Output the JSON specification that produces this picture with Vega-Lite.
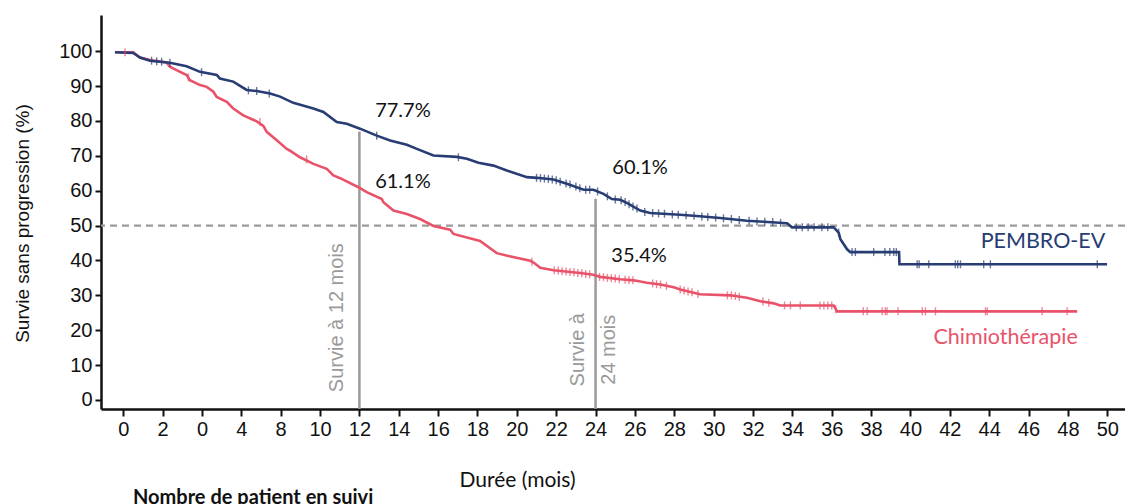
{
  "$schema": "https://vega.github.io/schema/vega-lite/v6.json",
  "width": 1024,
  "height": 394,
  "autosize": {"type": "none"},
  "padding": {"left": 101, "top": 15, "right": 0, "bottom": 95},
  "background": "white",
  "config": {"view": {"stroke": null}, "font": "Liberation Sans", "axis": {"labelOverlap": false, "labelBound": false, "labelFlush": false}},
  "title": {"text": "Nombre de patient en suivi", "orient": "bottom", "anchor": "start", "frame": "group", "font": "Lato", "fontWeight": "bold", "fontSize": 20, "color": "#111111", "dx": 32, "offset": 6, "dy": -8},
  "datasets": {
    "curves": [
      {"group": "Chimiothérapie", "t": -0.42, "s": 99.7},
      {"group": "Chimiothérapie", "t": 0.51, "s": 99.7},
      {"group": "Chimiothérapie", "t": 0.68, "s": 98.9},
      {"group": "Chimiothérapie", "t": 0.85, "s": 98.2},
      {"group": "Chimiothérapie", "t": 1.36, "s": 97.5},
      {"group": "Chimiothérapie", "t": 2.2, "s": 96.8},
      {"group": "Chimiothérapie", "t": 2.37, "s": 95.6},
      {"group": "Chimiothérapie", "t": 2.71, "s": 94.6},
      {"group": "Chimiothérapie", "t": 3.22, "s": 93.2},
      {"group": "Chimiothérapie", "t": 3.39, "s": 91.7},
      {"group": "Chimiothérapie", "t": 3.9, "s": 90.3},
      {"group": "Chimiothérapie", "t": 4.24, "s": 89.8},
      {"group": "Chimiothérapie", "t": 4.58, "s": 88.4},
      {"group": "Chimiothérapie", "t": 4.75, "s": 86.9},
      {"group": "Chimiothérapie", "t": 5.26, "s": 85.5},
      {"group": "Chimiothérapie", "t": 5.59, "s": 83.6},
      {"group": "Chimiothérapie", "t": 6.1, "s": 81.6},
      {"group": "Chimiothérapie", "t": 6.78, "s": 79.9},
      {"group": "Chimiothérapie", "t": 7.12, "s": 78.6},
      {"group": "Chimiothérapie", "t": 7.29, "s": 76.9},
      {"group": "Chimiothérapie", "t": 7.8, "s": 74.5},
      {"group": "Chimiothérapie", "t": 8.31, "s": 72.0},
      {"group": "Chimiothérapie", "t": 8.47, "s": 71.5},
      {"group": "Chimiothérapie", "t": 8.98, "s": 69.6},
      {"group": "Chimiothérapie", "t": 9.66, "s": 67.7},
      {"group": "Chimiothérapie", "t": 10.34, "s": 66.3},
      {"group": "Chimiothérapie", "t": 10.68, "s": 64.4},
      {"group": "Chimiothérapie", "t": 11.02, "s": 63.6},
      {"group": "Chimiothérapie", "t": 11.95, "s": 61.0},
      {"group": "Chimiothérapie", "t": 12.37, "s": 59.6},
      {"group": "Chimiothérapie", "t": 13.14, "s": 57.6},
      {"group": "Chimiothérapie", "t": 13.22, "s": 56.7},
      {"group": "Chimiothérapie", "t": 13.73, "s": 54.3},
      {"group": "Chimiothérapie", "t": 14.41, "s": 53.3},
      {"group": "Chimiothérapie", "t": 15.08, "s": 51.9},
      {"group": "Chimiothérapie", "t": 15.76, "s": 49.9},
      {"group": "Chimiothérapie", "t": 16.61, "s": 48.8},
      {"group": "Chimiothérapie", "t": 16.78, "s": 47.6},
      {"group": "Chimiothérapie", "t": 18.13, "s": 45.6},
      {"group": "Chimiothérapie", "t": 18.98, "s": 42.1},
      {"group": "Chimiothérapie", "t": 19.57, "s": 41.3},
      {"group": "Chimiothérapie", "t": 20.68, "s": 39.9},
      {"group": "Chimiothérapie", "t": 20.85, "s": 39.4},
      {"group": "Chimiothérapie", "t": 21.19, "s": 37.9},
      {"group": "Chimiothérapie", "t": 21.86, "s": 37.2},
      {"group": "Chimiothérapie", "t": 23.21, "s": 36.4},
      {"group": "Chimiothérapie", "t": 23.89, "s": 35.9},
      {"group": "Chimiothérapie", "t": 24.23, "s": 35.3},
      {"group": "Chimiothérapie", "t": 25.25, "s": 34.6},
      {"group": "Chimiothérapie", "t": 25.93, "s": 34.3},
      {"group": "Chimiothérapie", "t": 26.61, "s": 33.6},
      {"group": "Chimiothérapie", "t": 27.29, "s": 33.1},
      {"group": "Chimiothérapie", "t": 27.97, "s": 32.3},
      {"group": "Chimiothérapie", "t": 28.3, "s": 31.7},
      {"group": "Chimiothérapie", "t": 29.3, "s": 30.3},
      {"group": "Chimiothérapie", "t": 30.84, "s": 30.0},
      {"group": "Chimiothérapie", "t": 31.69, "s": 29.3},
      {"group": "Chimiothérapie", "t": 32.37, "s": 28.3},
      {"group": "Chimiothérapie", "t": 33.05, "s": 27.7},
      {"group": "Chimiothérapie", "t": 33.38, "s": 27.1},
      {"group": "Chimiothérapie", "t": 36.1, "s": 27.1},
      {"group": "Chimiothérapie", "t": 36.27, "s": 25.4},
      {"group": "Chimiothérapie", "t": 48.47, "s": 25.4},
      {"group": "PEMBRO-EV", "t": -0.42, "s": 99.7},
      {"group": "PEMBRO-EV", "t": 0.51, "s": 99.5},
      {"group": "PEMBRO-EV", "t": 0.85, "s": 98.2},
      {"group": "PEMBRO-EV", "t": 1.36, "s": 97.3},
      {"group": "PEMBRO-EV", "t": 1.86, "s": 97.0},
      {"group": "PEMBRO-EV", "t": 2.37, "s": 96.7},
      {"group": "PEMBRO-EV", "t": 3.22, "s": 95.7},
      {"group": "PEMBRO-EV", "t": 3.9, "s": 94.1},
      {"group": "PEMBRO-EV", "t": 4.75, "s": 93.2},
      {"group": "PEMBRO-EV", "t": 4.91, "s": 92.2},
      {"group": "PEMBRO-EV", "t": 5.59, "s": 91.3},
      {"group": "PEMBRO-EV", "t": 6.27, "s": 88.9},
      {"group": "PEMBRO-EV", "t": 6.78, "s": 88.6},
      {"group": "PEMBRO-EV", "t": 7.46, "s": 87.9},
      {"group": "PEMBRO-EV", "t": 7.97, "s": 87.0},
      {"group": "PEMBRO-EV", "t": 8.64, "s": 85.2},
      {"group": "PEMBRO-EV", "t": 9.66, "s": 83.6},
      {"group": "PEMBRO-EV", "t": 10.17, "s": 82.6},
      {"group": "PEMBRO-EV", "t": 10.85, "s": 79.7},
      {"group": "PEMBRO-EV", "t": 11.36, "s": 79.2},
      {"group": "PEMBRO-EV", "t": 12.03, "s": 77.8},
      {"group": "PEMBRO-EV", "t": 12.88, "s": 75.8},
      {"group": "PEMBRO-EV", "t": 13.56, "s": 74.4},
      {"group": "PEMBRO-EV", "t": 14.41, "s": 73.2},
      {"group": "PEMBRO-EV", "t": 14.92, "s": 72.0},
      {"group": "PEMBRO-EV", "t": 15.76, "s": 70.1},
      {"group": "PEMBRO-EV", "t": 16.95, "s": 69.7},
      {"group": "PEMBRO-EV", "t": 17.46, "s": 69.2},
      {"group": "PEMBRO-EV", "t": 18.05, "s": 68.0},
      {"group": "PEMBRO-EV", "t": 18.81, "s": 67.2},
      {"group": "PEMBRO-EV", "t": 19.49, "s": 65.8},
      {"group": "PEMBRO-EV", "t": 20.51, "s": 63.9},
      {"group": "PEMBRO-EV", "t": 21.02, "s": 63.7},
      {"group": "PEMBRO-EV", "t": 21.86, "s": 63.2},
      {"group": "PEMBRO-EV", "t": 22.54, "s": 62.0},
      {"group": "PEMBRO-EV", "t": 23.39, "s": 60.3},
      {"group": "PEMBRO-EV", "t": 23.89, "s": 60.3},
      {"group": "PEMBRO-EV", "t": 24.4, "s": 59.1},
      {"group": "PEMBRO-EV", "t": 24.83, "s": 57.6},
      {"group": "PEMBRO-EV", "t": 25.25, "s": 57.4},
      {"group": "PEMBRO-EV", "t": 25.59, "s": 56.5},
      {"group": "PEMBRO-EV", "t": 26.27, "s": 54.3},
      {"group": "PEMBRO-EV", "t": 26.78, "s": 53.6},
      {"group": "PEMBRO-EV", "t": 28.29, "s": 53.1},
      {"group": "PEMBRO-EV", "t": 29.3, "s": 52.7},
      {"group": "PEMBRO-EV", "t": 30.33, "s": 52.2},
      {"group": "PEMBRO-EV", "t": 31.69, "s": 51.4},
      {"group": "PEMBRO-EV", "t": 32.54, "s": 51.1},
      {"group": "PEMBRO-EV", "t": 33.73, "s": 50.7},
      {"group": "PEMBRO-EV", "t": 33.98, "s": 49.5},
      {"group": "PEMBRO-EV", "t": 36.1, "s": 49.5},
      {"group": "PEMBRO-EV", "t": 36.35, "s": 48.0},
      {"group": "PEMBRO-EV", "t": 36.44, "s": 46.1},
      {"group": "PEMBRO-EV", "t": 36.78, "s": 43.2},
      {"group": "PEMBRO-EV", "t": 36.94, "s": 42.4},
      {"group": "PEMBRO-EV", "t": 39.42, "s": 42.4},
      {"group": "PEMBRO-EV", "t": 39.44, "s": 38.9},
      {"group": "PEMBRO-EV", "t": 49.99, "s": 38.9}
    ],
    "censor": [
      {"group": "PEMBRO-EV", "t": 1.44, "s": 97.3},
      {"group": "PEMBRO-EV", "t": 1.7, "s": 97.1},
      {"group": "PEMBRO-EV", "t": 1.95, "s": 97.0},
      {"group": "PEMBRO-EV", "t": 2.37, "s": 96.7},
      {"group": "PEMBRO-EV", "t": 3.98, "s": 94.0},
      {"group": "PEMBRO-EV", "t": 6.36, "s": 88.8},
      {"group": "PEMBRO-EV", "t": 6.78, "s": 88.6},
      {"group": "PEMBRO-EV", "t": 7.42, "s": 87.9},
      {"group": "PEMBRO-EV", "t": 12.88, "s": 75.8},
      {"group": "PEMBRO-EV", "t": 17.03, "s": 69.6},
      {"group": "PEMBRO-EV", "t": 21.0, "s": 63.7},
      {"group": "PEMBRO-EV", "t": 21.2, "s": 63.6},
      {"group": "PEMBRO-EV", "t": 21.4, "s": 63.5},
      {"group": "PEMBRO-EV", "t": 21.6, "s": 63.4},
      {"group": "PEMBRO-EV", "t": 21.8, "s": 63.2},
      {"group": "PEMBRO-EV", "t": 22.0, "s": 63.0},
      {"group": "PEMBRO-EV", "t": 22.2, "s": 62.6},
      {"group": "PEMBRO-EV", "t": 22.5, "s": 62.1},
      {"group": "PEMBRO-EV", "t": 22.7, "s": 61.8},
      {"group": "PEMBRO-EV", "t": 23.0, "s": 61.2},
      {"group": "PEMBRO-EV", "t": 23.2, "s": 60.7},
      {"group": "PEMBRO-EV", "t": 23.5, "s": 60.3},
      {"group": "PEMBRO-EV", "t": 23.7, "s": 60.3},
      {"group": "PEMBRO-EV", "t": 24.1, "s": 59.8},
      {"group": "PEMBRO-EV", "t": 24.6, "s": 58.4},
      {"group": "PEMBRO-EV", "t": 25.0, "s": 57.5},
      {"group": "PEMBRO-EV", "t": 25.3, "s": 57.3},
      {"group": "PEMBRO-EV", "t": 25.5, "s": 56.8},
      {"group": "PEMBRO-EV", "t": 25.7, "s": 56.1},
      {"group": "PEMBRO-EV", "t": 25.9, "s": 55.5},
      {"group": "PEMBRO-EV", "t": 26.1, "s": 54.9},
      {"group": "PEMBRO-EV", "t": 26.5, "s": 53.9},
      {"group": "PEMBRO-EV", "t": 26.9, "s": 53.6},
      {"group": "PEMBRO-EV", "t": 27.2, "s": 53.5},
      {"group": "PEMBRO-EV", "t": 27.5, "s": 53.4},
      {"group": "PEMBRO-EV", "t": 27.9, "s": 53.2},
      {"group": "PEMBRO-EV", "t": 28.2, "s": 53.1},
      {"group": "PEMBRO-EV", "t": 28.6, "s": 53.0},
      {"group": "PEMBRO-EV", "t": 29.0, "s": 52.8},
      {"group": "PEMBRO-EV", "t": 29.4, "s": 52.6},
      {"group": "PEMBRO-EV", "t": 29.7, "s": 52.5},
      {"group": "PEMBRO-EV", "t": 30.1, "s": 52.3},
      {"group": "PEMBRO-EV", "t": 30.5, "s": 52.1},
      {"group": "PEMBRO-EV", "t": 30.9, "s": 51.9},
      {"group": "PEMBRO-EV", "t": 31.3, "s": 51.6},
      {"group": "PEMBRO-EV", "t": 31.8, "s": 51.4},
      {"group": "PEMBRO-EV", "t": 32.2, "s": 51.2},
      {"group": "PEMBRO-EV", "t": 32.6, "s": 51.1},
      {"group": "PEMBRO-EV", "t": 33.0, "s": 51.0},
      {"group": "PEMBRO-EV", "t": 33.4, "s": 50.8},
      {"group": "PEMBRO-EV", "t": 34.2, "s": 49.5},
      {"group": "PEMBRO-EV", "t": 34.5, "s": 49.5},
      {"group": "PEMBRO-EV", "t": 34.8, "s": 49.5},
      {"group": "PEMBRO-EV", "t": 35.1, "s": 49.5},
      {"group": "PEMBRO-EV", "t": 35.5, "s": 49.5},
      {"group": "PEMBRO-EV", "t": 35.8, "s": 49.5},
      {"group": "PEMBRO-EV", "t": 36.35, "s": 48.0},
      {"group": "PEMBRO-EV", "t": 37.03, "s": 42.4},
      {"group": "PEMBRO-EV", "t": 37.2, "s": 42.4},
      {"group": "PEMBRO-EV", "t": 38.13, "s": 42.4},
      {"group": "PEMBRO-EV", "t": 38.7, "s": 42.4},
      {"group": "PEMBRO-EV", "t": 38.95, "s": 42.4},
      {"group": "PEMBRO-EV", "t": 39.15, "s": 42.4},
      {"group": "PEMBRO-EV", "t": 39.28, "s": 42.4},
      {"group": "PEMBRO-EV", "t": 40.34, "s": 38.9},
      {"group": "PEMBRO-EV", "t": 40.44, "s": 38.9},
      {"group": "PEMBRO-EV", "t": 40.93, "s": 38.9},
      {"group": "PEMBRO-EV", "t": 42.28, "s": 38.9},
      {"group": "PEMBRO-EV", "t": 42.4, "s": 38.9},
      {"group": "PEMBRO-EV", "t": 42.54, "s": 38.9},
      {"group": "PEMBRO-EV", "t": 43.72, "s": 38.9},
      {"group": "PEMBRO-EV", "t": 44.06, "s": 38.9},
      {"group": "PEMBRO-EV", "t": 49.49, "s": 38.9},
      {"group": "Chimiothérapie", "t": 0.09, "s": 99.7},
      {"group": "Chimiothérapie", "t": 3.31, "s": 92.5},
      {"group": "Chimiothérapie", "t": 6.95, "s": 79.7},
      {"group": "Chimiothérapie", "t": 9.32, "s": 69.0},
      {"group": "Chimiothérapie", "t": 20.76, "s": 39.6},
      {"group": "Chimiothérapie", "t": 21.9, "s": 37.2},
      {"group": "Chimiothérapie", "t": 22.1, "s": 37.1},
      {"group": "Chimiothérapie", "t": 22.3, "s": 36.9},
      {"group": "Chimiothérapie", "t": 22.5, "s": 36.8},
      {"group": "Chimiothérapie", "t": 22.7, "s": 36.7},
      {"group": "Chimiothérapie", "t": 22.9, "s": 36.6},
      {"group": "Chimiothérapie", "t": 23.1, "s": 36.4},
      {"group": "Chimiothérapie", "t": 23.3, "s": 36.3},
      {"group": "Chimiothérapie", "t": 23.5, "s": 36.1},
      {"group": "Chimiothérapie", "t": 23.7, "s": 36.0},
      {"group": "Chimiothérapie", "t": 24.2, "s": 35.3},
      {"group": "Chimiothérapie", "t": 24.4, "s": 35.2},
      {"group": "Chimiothérapie", "t": 24.6, "s": 35.0},
      {"group": "Chimiothérapie", "t": 24.8, "s": 34.9},
      {"group": "Chimiothérapie", "t": 25.0, "s": 34.8},
      {"group": "Chimiothérapie", "t": 25.2, "s": 34.6},
      {"group": "Chimiothérapie", "t": 25.5, "s": 34.5},
      {"group": "Chimiothérapie", "t": 25.7, "s": 34.4},
      {"group": "Chimiothérapie", "t": 25.9, "s": 34.3},
      {"group": "Chimiothérapie", "t": 26.9, "s": 33.4},
      {"group": "Chimiothérapie", "t": 27.1, "s": 33.2},
      {"group": "Chimiothérapie", "t": 27.3, "s": 33.1},
      {"group": "Chimiothérapie", "t": 27.6, "s": 32.7},
      {"group": "Chimiothérapie", "t": 28.3, "s": 31.7},
      {"group": "Chimiothérapie", "t": 28.5, "s": 31.4},
      {"group": "Chimiothérapie", "t": 28.7, "s": 31.1},
      {"group": "Chimiothérapie", "t": 28.9, "s": 30.9},
      {"group": "Chimiothérapie", "t": 29.2, "s": 30.4},
      {"group": "Chimiothérapie", "t": 30.7, "s": 30.0},
      {"group": "Chimiothérapie", "t": 30.9, "s": 30.0},
      {"group": "Chimiothérapie", "t": 31.1, "s": 29.8},
      {"group": "Chimiothérapie", "t": 31.3, "s": 29.6},
      {"group": "Chimiothérapie", "t": 32.5, "s": 28.2},
      {"group": "Chimiothérapie", "t": 32.8, "s": 27.9},
      {"group": "Chimiothérapie", "t": 33.6, "s": 27.1},
      {"group": "Chimiothérapie", "t": 33.9, "s": 27.1},
      {"group": "Chimiothérapie", "t": 34.4, "s": 27.1},
      {"group": "Chimiothérapie", "t": 35.4, "s": 27.1},
      {"group": "Chimiothérapie", "t": 35.6, "s": 27.1},
      {"group": "Chimiothérapie", "t": 35.8, "s": 27.1},
      {"group": "Chimiothérapie", "t": 36.0, "s": 27.1},
      {"group": "Chimiothérapie", "t": 36.2, "s": 26.0},
      {"group": "Chimiothérapie", "t": 37.6, "s": 25.4},
      {"group": "Chimiothérapie", "t": 37.8, "s": 25.4},
      {"group": "Chimiothérapie", "t": 38.56, "s": 25.4},
      {"group": "Chimiothérapie", "t": 38.72, "s": 25.4},
      {"group": "Chimiothérapie", "t": 38.81, "s": 25.4},
      {"group": "Chimiothérapie", "t": 39.37, "s": 25.4},
      {"group": "Chimiothérapie", "t": 40.6, "s": 25.4},
      {"group": "Chimiothérapie", "t": 40.76, "s": 25.4},
      {"group": "Chimiothérapie", "t": 41.27, "s": 25.4},
      {"group": "Chimiothérapie", "t": 43.81, "s": 25.4},
      {"group": "Chimiothérapie", "t": 43.9, "s": 25.4},
      {"group": "Chimiothérapie", "t": 46.69, "s": 25.4},
      {"group": "Chimiothérapie", "t": 47.96, "s": 25.4}
    ]
  },
  "layer": [
    {
      "data": {"values": [{"t": 12, "s": 77.0}, {"t": 24, "s": 57.7}]},
      "mark": {"type": "rule", "color": "#9a9a9a", "strokeWidth": 2.5},
      "encoding": {
        "x": {
          "field": "t", "type": "quantitative",
          "scale": {"domain": [-1.13, 50.9], "nice": false, "zero": false},
          "axis": {
            "values": [0, 2, 4, 6, 8, 10, 12, 14, 16, 18, 20, 22, 24, 26, 28, 30, 32, 34, 36, 38, 40, 42, 44, 46, 48, 50],
            "labelExpr": "datum.value == 4 ? '0' : datum.value == 6 ? '4' : datum.label",
            "grid": false,
            "domainColor": "#111111", "domainWidth": 2.5,
            "tickColor": "#111111", "tickWidth": 2, "tickSize": 7,
            "labelFont": "Liberation Sans", "labelFontSize": 20, "labelColor": "#111111", "labelPadding": 3,
            "title": "Durée (mois)", "titleFont": "Lato", "titleFontSize": 21, "titleFontWeight": "normal", "titleColor": "#111111",
            "titleX": 416, "titleY": 71, "titleBaseline": "middle"
          }
        },
        "y": {
          "field": "s", "type": "quantitative",
          "scale": {"domain": [-2.6, 110.4], "nice": false, "zero": false},
          "axis": {
            "values": [0, 10, 20, 30, 40, 50, 60, 70, 80, 90, 100],
            "tickCount": 11,
            "grid": false,
            "domainColor": "#111111", "domainWidth": 2.5,
            "tickColor": "#111111", "tickWidth": 2, "tickSize": 6,
            "labelFont": "Liberation Sans", "labelFontSize": 20, "labelColor": "#111111", "labelPadding": 3,
            "title": "Survie sans progression (%)", "titleFont": "Liberation Sans", "titleFontSize": 19, "titleFontWeight": "normal", "titleColor": "#111111",
            "titleX": -79, "titleY": 208, "titleAngle": -90, "titleAlign": "center", "titleBaseline": "middle"
          }
        },
        "y2": {"datum": -2.6}
      }
    },
    {
      "data": {"values": [{"s": 50}]},
      "mark": {"type": "rule", "color": "#9a9a9a", "strokeWidth": 2.2, "strokeDash": [7, 5]},
      "encoding": {"y": {"field": "s", "type": "quantitative"}}
    },
    {
      "data": {"name": "curves"},
      "mark": {"type": "line", "strokeWidth": 2.6, "interpolate": "linear"},
      "encoding": {
        "x": {"field": "t", "type": "quantitative"},
        "y": {"field": "s", "type": "quantitative"},
        "color": {"field": "group", "type": "nominal", "scale": {"domain": ["PEMBRO-EV", "Chimiothérapie"], "range": ["#283d73", "#e8536a"]}, "legend": null},
        "detail": {"field": "group"}
      }
    },
    {
      "data": {"name": "censor"},
      "mark": {"type": "tick", "orient": "vertical", "size": 8, "thickness": 1.4},
      "encoding": {
        "x": {"field": "t", "type": "quantitative"},
        "y": {"field": "s", "type": "quantitative"},
        "color": {"field": "group", "type": "nominal", "legend": null}
      }
    },
    {
      "data": {"values": [
        {"t": 12.8, "s": 83.0, "label": "77.7%"},
        {"t": 12.8, "s": 62.5, "label": "61.1%"},
        {"t": 24.85, "s": 66.6, "label": "60.1%"},
        {"t": 24.8, "s": 41.2, "label": "35.4%"}
      ]},
      "mark": {"type": "text", "font": "Lato", "fontSize": 20, "align": "left", "baseline": "middle", "color": "#111111"},
      "encoding": {
        "x": {"field": "t", "type": "quantitative"},
        "y": {"field": "s", "type": "quantitative"},
        "text": {"field": "label"}
      }
    },
    {
      "data": {"values": [
        {"t": 49.9, "s": 45.3, "group": "PEMBRO-EV"},
        {"t": 48.5, "s": 17.7, "group": "Chimiothérapie"}
      ]},
      "mark": {"type": "text", "font": "Lato", "fontSize": 21.5, "align": "right", "baseline": "middle"},
      "encoding": {
        "x": {"field": "t", "type": "quantitative"},
        "y": {"field": "s", "type": "quantitative"},
        "text": {"field": "group"},
        "color": {"field": "group", "type": "nominal", "legend": null}
      }
    },
    {
      "data": {"values": [
        {"t": 10.85, "s": 23.6, "label": "Survie à 12 mois"},
        {"t": 23.13, "s": 14.4, "label": "Survie à"},
        {"t": 24.66, "s": 14.4, "label": "24 mois"}
      ]},
      "mark": {"type": "text", "font": "Liberation Sans", "fontSize": 20, "angle": 270, "align": "center", "baseline": "middle", "color": "#9a9a9a"},
      "encoding": {
        "x": {"field": "t", "type": "quantitative"},
        "y": {"field": "s", "type": "quantitative"},
        "text": {"field": "label"}
      }
    }
  ]
}
